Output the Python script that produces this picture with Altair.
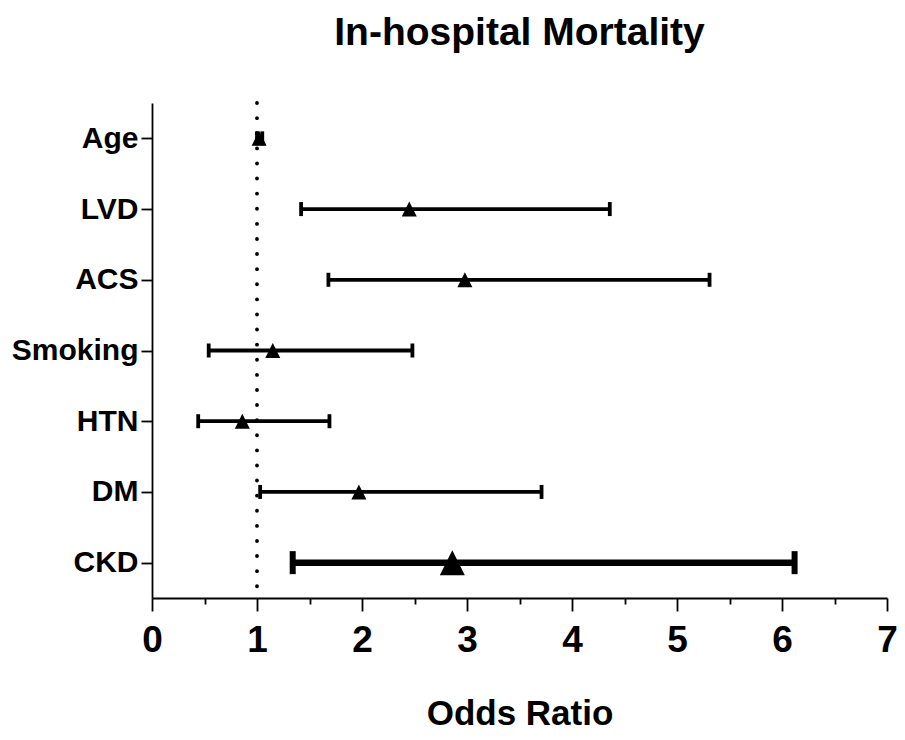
import altair as alt
import pandas as pd

# ---- data ----
categories = ["Age", "LVD", "ACS", "Smoking", "HTN", "DM", "CKD"]
odds_ratio = [1.02, 2.45, 2.98, 1.15, 0.86, 1.97, 2.86]
ci_low = [1.00, 1.42, 1.68, 0.54, 0.44, 1.03, 1.34]
ci_high = [1.05, 4.36, 5.31, 2.48, 1.69, 3.71, 6.12]
highlight = [False, False, False, False, False, False, True]
x_ticks = [0, 1, 2, 3, 4, 5, 6, 7]
x_minor = [0.5, 1.5, 2.5, 3.5, 4.5, 5.5, 6.5]
reference_line = [1]

df = pd.DataFrame({
    "cat": categories,
    "or": odds_ratio,
    "lo": ci_low,
    "hi": ci_high,
    "emph": highlight,
})
df["lw"] = [6.5 if e else 3.8 for e in df["emph"]]
df["msize"] = [625 if e else 225 for e in df["emph"]]

FONT = "Liberation Sans"
xscale = alt.Scale(domain=[0, 7], nice=False, zero=False)
yenc = alt.Y(
    "cat:N",
    sort=categories,
    scale=alt.Scale(type="point", padding=0.5),
    axis=alt.Axis(
        title=None,
        labelFont=FONT,
        labelFontSize=30,
        labelFontWeight="bold",
        labelColor="black",
        labelPadding=3,
        tickSize=11,
        tickWidth=1.8,
        tickColor="black",
        domainWidth=1.8,
        domainColor="black",
        grid=False,
    ),
)

base = alt.Chart(df)

# dotted reference line, also carries minor tick axis
ref = alt.Chart(pd.DataFrame({"x": reference_line})).mark_rule(
    color="black", strokeWidth=3.8, strokeDash=[0.1, 15], strokeCap="round"
).encode(
    x=alt.X(
        "x:Q",
        scale=xscale,
        axis=alt.Axis(
            values=x_minor,
            labels=False,
            domain=False,
            title=None,
            tickSize=6,
            tickWidth=1.8,
            tickColor="black",
            grid=False,
            orient="bottom",
        ),
    )
)

ci = base.mark_rule(color="black").encode(
    x=alt.X(
        "lo:Q",
        scale=xscale,
        axis=alt.Axis(
            values=x_ticks,
            format="d",
            title="Odds Ratio",
            titleFont=FONT,
            titleFontSize=35,
            titleFontWeight="bold",
            titleColor="black",
            titleY=126,
            titleBaseline="alphabetic",
            labelFont=FONT,
            labelFontSize=37,
            labelFontWeight="bold",
            labelColor="black",
            labelPadding=11,
            labelFlush=False,
            labelOverlap=False,
            tickSize=13,
            tickWidth=1.8,
            tickColor="black",
            domainWidth=1.8,
            domainColor="black",
            grid=False,
            orient="bottom",
        ),
    ),
    x2="hi:Q",
    y=yenc,
    strokeWidth=alt.StrokeWidth("lw:Q", scale=None),
)

caps_normal = base.transform_filter("!datum.emph").transform_fold(
    ["lo", "hi"], as_=["end", "val"]
).mark_tick(color="black", thickness=3.8, size=14, opacity=1).encode(
    x=alt.X("val:Q", scale=xscale, axis=None),
    y=yenc,
)

caps_emph = base.transform_filter("datum.emph").transform_fold(
    ["lo", "hi"], as_=["end", "val"]
).mark_tick(color="black", thickness=6, size=23, opacity=1).encode(
    x=alt.X("val:Q", scale=xscale, axis=None),
    y=yenc,
)

points = base.mark_point(
    shape="M0,-1L1,1L-1,1Z", filled=True, color="black", opacity=1
).encode(
    x=alt.X("or:Q", scale=xscale, axis=None),
    y=yenc,
    size=alt.Size("msize:Q", scale=None),
)

chart = (
    alt.layer(ref, ci, caps_normal, caps_emph, points)
    .resolve_axis(x="independent")
    .properties(
        width=735,
        height=495,
        autosize=alt.AutoSizeParams(type="none"),
        padding={"left": 144, "top": 95, "right": 10, "bottom": 134},
        title=alt.TitleParams(
            "In-hospital Mortality",
            font=FONT,
            fontSize=39,
            fontWeight="bold",
            color="black",
            anchor="middle",
            frame="group",
            baseline="alphabetic",
            offset=17,
        ),
        background="white",
    )
    .configure_view(stroke=None)
)

chart.save("out.html", embed_options={"renderer": "svg", "actions": False})
